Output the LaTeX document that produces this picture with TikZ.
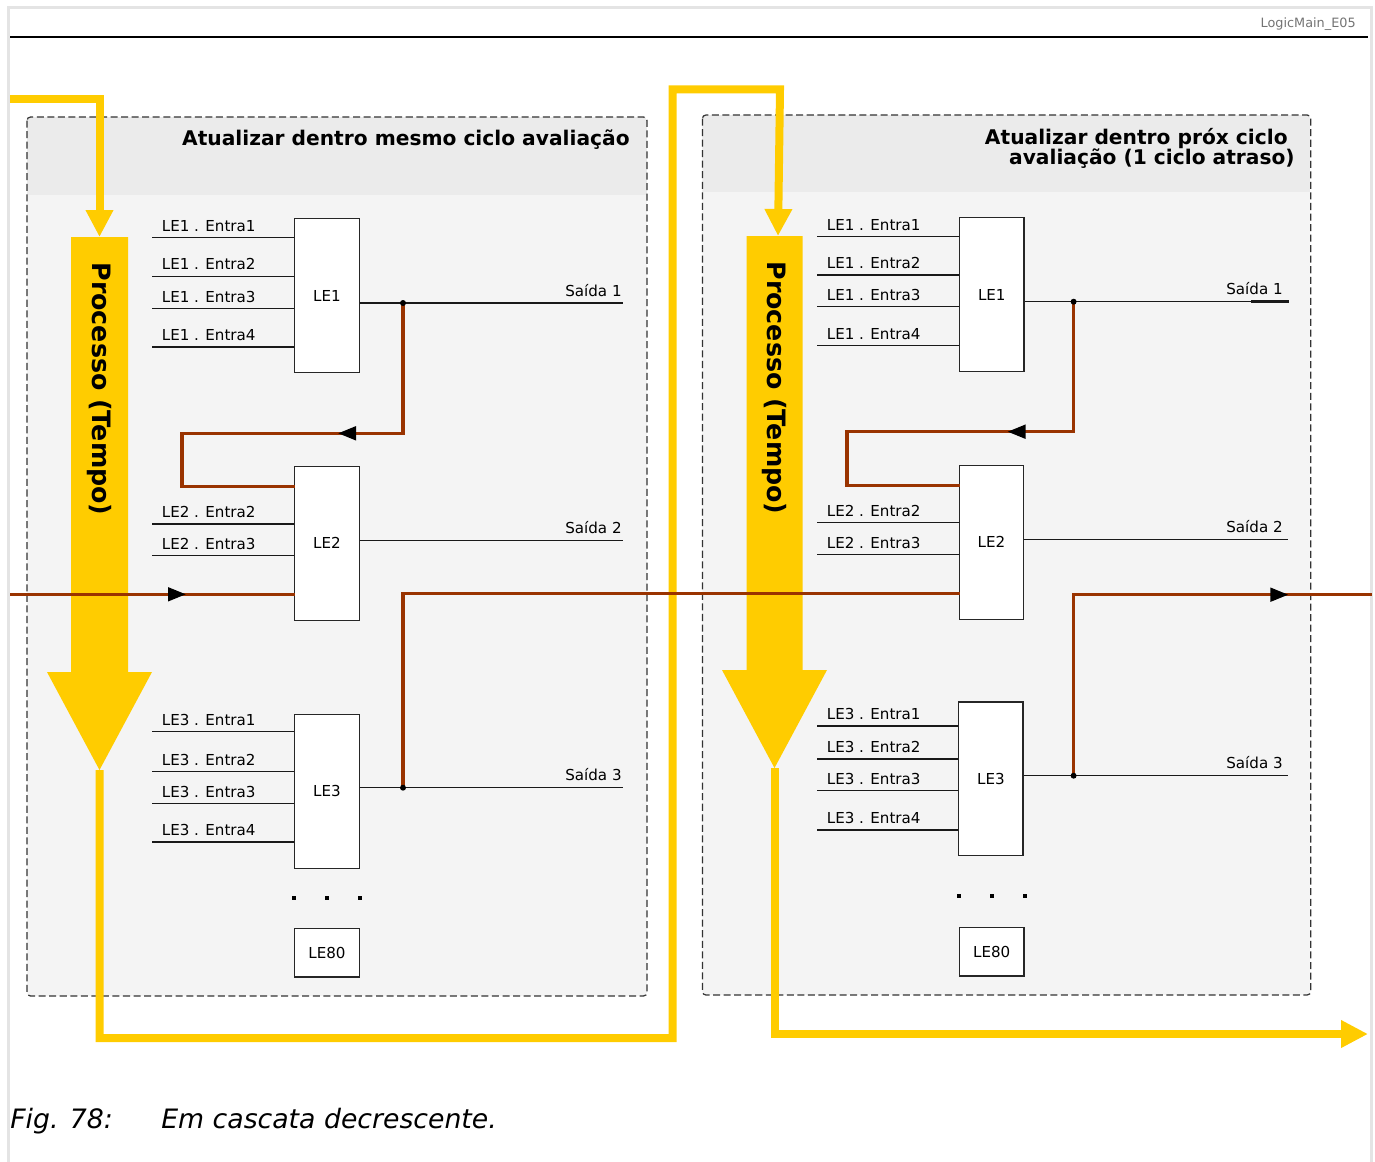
\documentclass[tikz,border=0pt]{standalone}
\usepackage{fontspec}
\setmainfont{DejaVu Sans}
\usetikzlibrary{arrows.meta}
\definecolor{procyellow}{RGB}{255,204,0}
\definecolor{flowbrown}{RGB}{153,51,0}
\definecolor{headgray}{RGB}{235,235,235}
\definecolor{panelgray}{RGB}{244,244,244}
\definecolor{framegray}{RGB}{228,228,228}
\begin{document}
\begin{tikzpicture}[x=0.02cm, y=-0.02cm, font=\fontsize{8.6}{10}\selectfont,
  panel/.style={draw=black!80, dash pattern=on 4pt off 2pt, line width=0.7pt, rounded corners=2pt},
  le/.style={draw=black!85, fill=white, line width=0.8pt, minimum width=1.29cm, inner sep=0pt},
  wire/.style={black!90, line width=0.75pt},
  lab/.style={anchor=base west, inner sep=0pt},
  outlab/.style={anchor=base east, inner sep=0pt},
  flow/.style={flowbrown, line width=1.8pt},
  flowtip/.style={flowbrown, line width=1.8pt, -{Triangle[length=0.36cm, width=0.27cm, color=black]}},
  proc/.style={procyellow, line width=0.16cm, -{Triangle[length=0.54cm, width=0.52cm]}},
  proclab/.style={rotate=-90, font=\fontsize{14.4}{14}\selectfont\bfseries},
  title/.style={anchor=base east, inner sep=0pt, font=\fontsize{11.5}{12}\selectfont\bfseries},
  figcap/.style={anchor=base west, inner sep=0pt, font=\fontsize{15.2}{16}\selectfont\itshape}]
  \useasboundingbox (0,0) rectangle (1375,1162);
  \draw[framegray, line width=1.2pt] (8.5,1162) |- (1371.5,7.5) -- (1371.5,1162);
  \draw[line width=1.4pt] (10,37) -- (1368,37);
  \node[anchor=base east, inner sep=0pt, text=black!55, font=\fontsize{7.3}{8}\selectfont] (tag) at (1356,28) {LogicMain\_E05};
  \foreach \xa/\ya/\xb/\yb/\yh in {27/117/647/996/195, 702.4/115/1310.7/995/191.7} {
    \begin{scope}
      \clip[rounded corners=2pt] (\xa,\ya) rectangle (\xb,\yb);
      \fill[panelgray] (\xa,\ya) rectangle (\xb,\yb);
      \fill[headgray] (\xa,\ya) rectangle (\xb,\yh);
    \end{scope}
    \draw[panel] (\xa,\ya) rectangle (\xb,\yb);
  }
  \node[title] (t1) at (630,145.5) {Atualizar dentro mesmo ciclo avaliação};
  \node[title] (t2a) at (1288,145) {Atualizar dentro próx ciclo};
  \node[title] (t2b) at (1295,165) {avaliação (1 ciclo atraso)};
  % process arrows
  \fill[procyellow] (71,237) -- (128,237) -- (128,672) -- (152,672) -- (99.5,770) -- (47,672) -- (71,672) -- cycle;
  \fill[procyellow] (746.6,236) -- (802.7,236) -- (802.7,670) -- (827,670) -- (774.5,768) -- (722,670) -- (746.6,670) -- cycle;
  \node[proclab] (p1) at (99.5,389) {Processo (Tempo)};
  \node[proclab] (p2) at (774.5,388) {Processo (Tempo)};
  \coordinate (pin) at (10,99.5);
  \coordinate (p1top) at (99.5,237);
  \coordinate (p1tip) at (99.5,770);
  \coordinate (p2top) at (778,236);
  \coordinate (p2tip) at (774.5,768);
  \coordinate (pout) at (1368,1034);
  \draw[proc] (pin) -| (p1top);
  \draw[proc] (p1tip) |- (672.5,1038) |- (780,89.5) -- (p2top);
  \draw[proc] (p2tip) |- (pout);
  % logic elements
  \node[le, minimum height=3.08cm] (a1) at (327,295.7) {LE1};
  \node[le, minimum height=3.08cm] (a2) at (327,543.3) {LE2};
  \node[le, minimum height=3.08cm] (a3) at (327,791.3) {LE3};
  \node[le, minimum height=0.97cm] (a80) at (327,952.8) {LE80};
  \node[le, minimum height=3.08cm] (b1) at (991.8,294.7) {LE1};
  \node[le, minimum height=3.08cm] (b2) at (991.5,542.3) {LE2};
  \node[le, minimum height=3.08cm] (b3) at (990.9,778.8) {LE3};
  \node[le, minimum height=0.97cm] (b80) at (991.7,951.7) {LE80};
  \foreach \b/\k/\xs/\n/\y in {a1/1/152/1/237.7, a1/1/152/2/276.3, a1/1/152/3/308.7, a1/1/152/4/347,
      a2/2/152/2/524, a2/2/152/3/555.7,
      a3/3/152/1/731.7, a3/3/152/2/771.7, a3/3/152/3/803.7, a3/3/152/4/842,
      b1/1/817/1/236.7, b1/1/817/2/275, b1/1/817/3/306.7, b1/1/817/4/345.7,
      b2/2/817/2/522.7, b2/2/817/3/554.7,
      b3/3/817/1/726, b3/3/817/2/759, b3/3/817/3/790.7, b3/3/817/4/830} {
    \coordinate (\b-in\n) at (\xs,\y);
    \draw[wire] (\b-in\n) -- (\b-in\n -| \b.west);
    \node[lab] (\b-lab\n) at ([shift={(9.5,-6.5)}]\b-in\n) {LE\k{} . Entra\n};
  }
  \foreach \b/\k/\xe/\y/\dx in {a1/1/623/303/-1, a2/2/623/540.7/-1, a3/3/623/787.7/-1,
      b1/1/1289/301.7/-6, b2/2/1288/539.3/-5, b3/3/1288/775.7/-5} {
    \coordinate (\b-out) at (\xe,\y);
    \draw[wire] (\b-out -| \b.east) -- (\b-out);
    \node[outlab] (\b-olab) at ([shift={(\dx,-7)}]\b-out) {Saída \k};
  }
  \draw[wire, line width=1.5pt] (586,303) -- (a1-out);
  \draw[wire, line width=1.5pt] (1251,301.7) -- (b1-out);
  \foreach \x/\y in {293.8/897.7, 327.2/897.7, 359.8/897.7, 958.8/896, 992/896, 1025.3/896}
    \fill (\x-2,\y-2) rectangle (\x+2,\y+2);
  % feedback and carry lines
  \coordinate (a1j) at (403,303);
  \coordinate (a1bend) at (182,433.3);
  \coordinate (a2fb) at (295,486.7);
  \coordinate (a1tip) at (338,433.3);
  \draw[flow] (a1j) |- (a1bend) |- (a2fb);
  \draw[flowtip] (a1j |- a1bend) -- (a1tip);
  \coordinate (inL) at (10,594.3);
  \coordinate (a2in) at (295,594.3);
  \coordinate (inLtip) at (186,594.3);
  \draw[flow] (inL) -- (a2in);
  \draw[flowtip] (inL) -- (inLtip);
  \coordinate (a3j) at (403,787.7);
  \coordinate (b2in) at (959.6,593.7);
  \draw[flow] (a3j) |- (b2in);
  \coordinate (b1j) at (1073.6,301.7);
  \coordinate (b1bend) at (847,431.7);
  \coordinate (b2fb) at (959.6,485.3);
  \coordinate (b1tip) at (1007.5,431.7);
  \draw[flow] (b1j) |- (b1bend) |- (b2fb);
  \draw[flowtip] (b1j |- b1bend) -- (b1tip);
  \coordinate (b3j) at (1073.6,775.7);
  \coordinate (outR) at (1372,594.7);
  \coordinate (outRtip) at (1288.4,594.7);
  \draw[flow] (b3j) |- (outR);
  \draw[flowtip] (b3j |- outR) -- (outRtip);
  \foreach \j in {a1j, a3j, b1j, b3j}
    \fill (\j) circle[radius=1.7pt];
  \node[figcap] (figno) at (10,1128) {Fig. 78:};
  \node[figcap] (figtxt) at (161,1128) {Em cascata decrescente.};
\end{tikzpicture}
\end{document}
